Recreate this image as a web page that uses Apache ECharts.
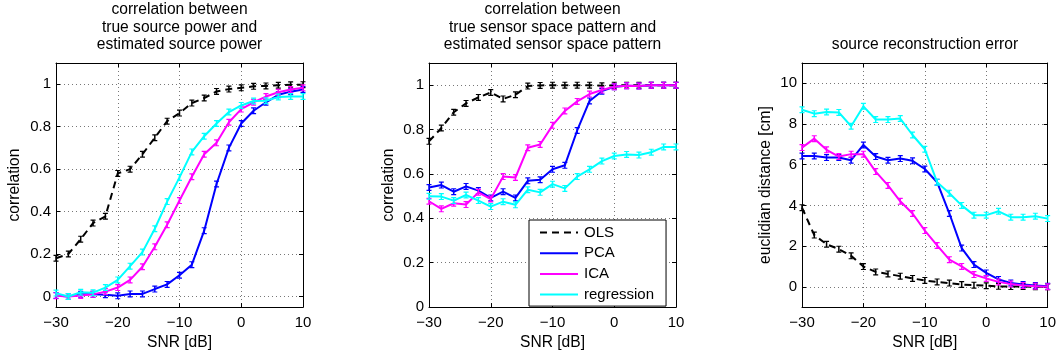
<!DOCTYPE html>
<html><head><meta charset="utf-8">
<script src="https://cdn.jsdelivr.net/npm/echarts@6/dist/echarts.min.js"></script>
<style>html,body{margin:0;padding:0;background:#fff}#c{width:1059px;height:356px}</style>
</head><body><div id="c"></div>
<script>
// ---------- data ----------
const snr = [-30,-28,-26,-24,-22,-20,-18,-16,-14,-12,-10,-8,-6,-4,-2,0,2,4,6,8,10];
const seriesNames = ['OLS','PCA','ICA','regression'];
const titles = [
  'correlation between\ntrue source power and\nestimated source power',
  'correlation between\ntrue sensor space pattern and\nestimated sensor space pattern',
  'source reconstruction error'
];
const yNames = ['correlation','correlation','euclidian distance [cm]'];
const xName = 'SNR [dB]';

// panel 1: correlation of source power
const p1_ols = [0.18,0.20,0.27,0.346,0.378,0.58,0.60,0.67,0.748,0.826,0.864,0.911,0.935,0.966,0.977,0.983,0.99,0.992,0.995,0.997,0.998];
const p1_pca = [0.005,0.0,0.01,0.01,0.008,0.003,0.012,0.012,0.035,0.057,0.10,0.15,0.31,0.53,0.70,0.815,0.875,0.915,0.95,0.965,0.975];
const p1_ica = [0.003,0.0,0.005,0.01,0.023,0.042,0.078,0.14,0.234,0.338,0.452,0.564,0.67,0.724,0.821,0.883,0.915,0.942,0.962,0.975,0.983];
const p1_reg = [0.016,0.0,0.02,0.018,0.042,0.078,0.143,0.209,0.319,0.447,0.561,0.681,0.755,0.815,0.869,0.90,0.921,0.922,0.94,0.942,0.942];

// panel 2: correlation of sensor space pattern
const p2_ols = [0.747,0.807,0.878,0.918,0.945,0.967,0.938,0.957,0.996,0.999,1.0,1.0,1.0,1.0,0.997,1.0,1.0,1.0,1.0,1.0,1.0];
const p2_pca = [0.539,0.55,0.52,0.544,0.525,0.492,0.52,0.492,0.569,0.574,0.621,0.639,0.796,0.929,0.973,0.993,0.998,0.996,1.0,1.0,1.0];
const p2_ica = [0.477,0.443,0.468,0.462,0.517,0.487,0.588,0.584,0.718,0.733,0.819,0.884,0.927,0.96,0.978,0.993,0.998,0.996,1.0,1.0,1.0];
const p2_reg = [0.499,0.498,0.48,0.505,0.48,0.453,0.475,0.461,0.529,0.517,0.554,0.535,0.588,0.621,0.658,0.681,0.688,0.685,0.698,0.722,0.722];

// panel 3: source reconstruction error
const p3_ols = [3.89,2.54,2.09,1.85,1.52,0.99,0.73,0.63,0.52,0.41,0.31,0.24,0.18,0.11,0.08,0.05,0.02,0.01,0.01,0.0,0.0];
const p3_pca = [6.43,6.43,6.35,6.35,6.22,6.97,6.40,6.22,6.30,6.19,5.79,5.14,3.60,1.90,1.09,0.68,0.36,0.19,0.11,0.06,0.02];
const p3_ica = [6.84,7.28,6.73,6.40,6.52,6.52,5.66,4.98,4.20,3.60,2.76,2.03,1.33,1.00,0.60,0.41,0.24,0.13,0.06,0.03,0.0];
const p3_reg = [8.70,8.51,8.59,8.57,7.89,8.87,8.22,8.22,8.27,7.46,6.76,5.14,4.60,4.00,3.52,3.52,3.71,3.42,3.42,3.47,3.35];

const yRanges = [[-0.05,1.1],[0,1.1],[-1,11]];
const xRange = [-30,10];
const panelData = [
  [p1_ols,p1_pca,p1_ica,p1_reg],
  [p2_ols,p2_pca,p2_ica,p2_reg],
  [p3_ols,p3_pca,p3_ica,p3_reg]
];

// ---------- styling ----------
const FONT = '"Liberation Sans", Arial, Helvetica, sans-serif';
const colors = ['#000000','#0000ff','#ff00ff','#00ffff'];
const IBEAM = 'path://M0,0H10V2H6.5V10H10V12H0V10H3.5V2H0Z';
const gridBoxes = [
  {left:56, top:63, width:247, height:246},
  {left:429, top:63, width:247, height:246},
  {left:802, top:63, width:247, height:246}
];
const yNameGaps = [33, 32, 28];
const titleCenters = [[179.5,27.5],[552.5,27.5],[925,45]];
const minus = v => String(v).replace('-', '\u2212');

const grid = gridBoxes.map(g => Object.assign({containLabel:false}, g));
const xAxis = [], yAxis = [], series = [];
const dotted = {show:true, lineStyle:{color:'#777', width:1, type:[1,3]}};

gridBoxes.forEach((g, gi) => {
  xAxis.push({
    type:'value', gridIndex:gi, min:xRange[0], max:xRange[1], interval:10,
    name:xName, nameLocation:'middle', nameGap:26,
    nameTextStyle:{fontFamily:FONT, fontSize:15.6, color:'#000'},
    axisLine:{show:true, onZero:false, lineStyle:{color:'#000', width:1}},
    axisTick:{show:true, inside:true, length:4, lineStyle:{color:'#000'}},
    axisLabel:{fontFamily:FONT, fontSize:15, color:'#000', margin:8, formatter:minus},
    splitLine:dotted
  });
  xAxis.push({
    type:'value', gridIndex:gi, position:'top', min:xRange[0], max:xRange[1], interval:10,
    axisLine:{show:true, onZero:false, lineStyle:{color:'#000', width:1}},
    axisTick:{show:true, inside:true, length:4, lineStyle:{color:'#000'}},
    axisLabel:{show:false}, splitLine:{show:false}
  });
  const yr = yRanges[gi];
  yAxis.push({
    type:'value', gridIndex:gi, min:yr[0], max:yr[1], splitNumber:5,
    name:yNames[gi], nameLocation:'middle', nameGap:yNameGaps[gi],
    nameTextStyle:{fontFamily:FONT, fontSize:15.6, color:'#000'},
    axisLine:{show:true, onZero:false, lineStyle:{color:'#000', width:1}},
    axisTick:{show:true, inside:true, length:4, lineStyle:{color:'#000'}},
    axisLabel:{fontFamily:FONT, fontSize:15, color:'#000', margin:5,
      showMinLabel: yr[0] === 0, showMaxLabel:false, formatter:minus},
    splitLine:dotted
  });
  yAxis.push({
    type:'value', gridIndex:gi, position:'right', min:yr[0], max:yr[1], splitNumber:5,
    axisLine:{show:true, onZero:false, lineStyle:{color:'#000', width:1}},
    axisTick:{show:true, inside:true, length:4, lineStyle:{color:'#000'}},
    axisLabel:{show:false}, splitLine:{show:false}
  });
  panelData[gi].forEach((arr, si) => {
    series.push({
      type:'line', name:seriesNames[si], xAxisIndex:gi*2, yAxisIndex:gi*2,
      data: snr.map((x,i) => [x, arr[i]]),
      symbol:IBEAM, symbolSize:[5,7], showSymbol:true,
      lineStyle:{color:colors[si], width:2, type: si===0 ? [7,5] : 'solid'},
      itemStyle:{color:colors[si]},
      emphasis:{disabled:true}, silent:true, clip:true,
      z: 2 + si
    });
  });
});

const graphic = titles.map((t, i) => ({
  type:'text', x:titleCenters[i][0], y:titleCenters[i][1], silent:true,
  style:{text:t, fill:'#000', font:'15.6px ' + FONT, align:'center', verticalAlign:'middle', lineHeight:17.5}
}));

const option = {
  backgroundColor:'#fff',
  animation:false,
  grid, xAxis, yAxis, series, graphic,
  legend:{
    data:seriesNames, orient:'vertical', left:529, top:220,
    itemWidth:38, itemHeight:14, itemGap:5.7,
    padding:[5,12,4,10],
    borderColor:'#000', borderWidth:1, backgroundColor:'#fff',
    itemStyle:{opacity:0},
    textStyle:{fontFamily:FONT, fontSize:15, color:'#000', padding:[0,0,0,1]},
    selectedMode:false, z:10
  }
};
const chart = echarts.init(document.getElementById('c'));
chart.setOption(option);
</script></body></html>
